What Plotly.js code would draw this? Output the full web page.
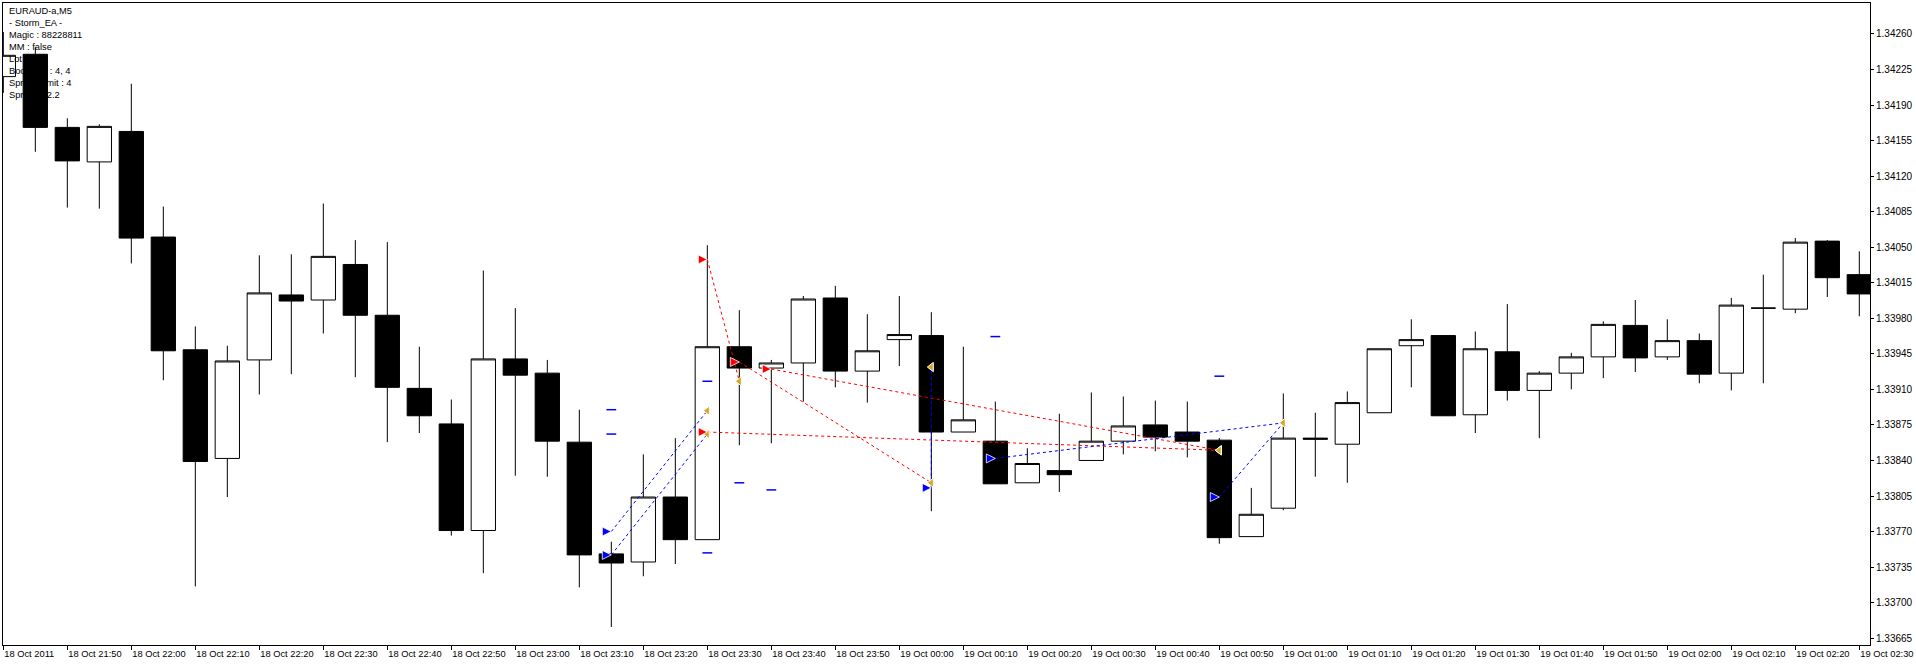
<!DOCTYPE html>
<html>
<head>
<meta charset="utf-8">
<script src="https://cdn.plot.ly/plotly-3.0.1.min.js"></script>
<style>
html,body{margin:0;padding:0;background:#fff;}
#chart{width:1916px;height:664px;}
</style>
</head>
<body>
<div id="chart"></div>
<script>
// ---- bar times (EURAUD M5, 18 Oct 2011 21:40 -> 19 Oct 2011 02:30) ----
const barTimes = ['21:40','21:45','21:50','21:55','22:00','22:05','22:10','22:15','22:20','22:25',
  '22:30','22:35','22:40','22:45','22:50','22:55','23:00','23:05','23:10','23:15',
  '23:20','23:25','23:30','23:35','23:40','23:45','23:50','23:55','00:00','00:05',
  '00:10','00:15','00:20','00:25','00:30','00:35','00:40','00:45','00:50','00:55',
  '01:00','01:05','01:10','01:15','01:20','01:25','01:30','01:35','01:40','01:45',
  '01:50','01:55','02:00','02:05','02:10','02:15','02:20','02:25','02:30'];

const openP = [1.34218,1.34240,1.34168,1.34134,1.34164,1.34060,1.33949,1.33842,1.33939,1.34003,
  1.33998,1.34033,1.33983,1.33911,1.33876,1.33771,1.33940,1.33926,1.33858,1.33748,
  1.33740,1.33804,1.33762,1.33952,1.33931,1.33936,1.34000,1.33928,1.33959,1.33963,
  1.33868,1.33859,1.33818,1.33830,1.33840,1.33859,1.33875,1.33868,1.33860,1.33765,
  1.33793,1.33862,1.33856,1.33887,1.33953,1.33963,1.33885,1.33947,1.33909,1.33926,
  1.33942,1.33973,1.33942,1.33958,1.33926,1.33990,1.33989,1.34056,1.34023];
const highP = [1.34262,1.34247,1.34177,1.34171,1.34211,1.34090,1.33972,1.33953,1.34042,1.34043,
  1.34093,1.34057,1.34055,1.33952,1.33900,1.34027,1.33990,1.33939,1.33890,1.33760,
  1.33846,1.33862,1.34052,1.33988,1.33939,1.34002,1.34012,1.33984,1.34002,1.33986,
  1.33952,1.33898,1.33852,1.33886,1.33907,1.33903,1.33899,1.33898,1.33862,1.33813,
  1.33906,1.33887,1.33908,1.33950,1.33979,1.33963,1.33967,1.33994,1.33928,1.33946,
  1.33977,1.33998,1.33979,1.33965,1.34000,1.34023,1.34059,1.34057,1.34046];
const lowP = [1.34202,1.34144,1.34089,1.34088,1.34034,1.33919,1.33716,1.33804,1.33905,1.33925,
  1.33965,1.33922,1.33858,1.33867,1.33766,1.33729,1.33825,1.33824,1.33715,1.33676,
  1.33726,1.33738,1.33762,1.33855,1.33857,1.33898,1.33912,1.33897,1.33933,1.33790,
  1.33868,1.33817,1.33818,1.33809,1.33840,1.33846,1.33849,1.33843,1.33758,1.33765,
  1.33791,1.33824,1.33818,1.33887,1.33912,1.33884,1.33867,1.33899,1.33862,1.33910,
  1.33921,1.33927,1.33939,1.33916,1.33909,1.33916,1.33985,1.34001,1.33982];
const closeP = [1.34239,1.34168,1.34135,1.34169,1.34059,1.33948,1.33839,1.33938,1.34005,1.33997,
  1.34041,1.33983,1.33912,1.33884,1.33771,1.33940,1.33924,1.33859,1.33747,1.33739,
  1.33804,1.33762,1.33952,1.33931,1.33936,1.33999,1.33928,1.33948,1.33964,1.33868,
  1.33880,1.33817,1.33837,1.33826,1.33859,1.33874,1.33863,1.33859,1.33764,1.33787,
  1.33862,1.33861,1.33897,1.33950,1.33959,1.33884,1.33950,1.33909,1.33926,1.33942,
  1.33974,1.33941,1.33958,1.33925,1.33993,1.33990,1.34055,1.34020,1.34004];

// ---- time axis labels ----
const timeTickValues = ['21:40','21:50','22:00','22:10','22:20','22:30','22:40','22:50','23:00','23:10',
  '23:20','23:30','23:40','23:50','00:00','00:10','00:20','00:30','00:40','00:50',
  '01:00','01:10','01:20','01:30','01:40','01:50','02:00','02:10','02:20','02:30'];
const timeTickLabels = ['18 Oct 2011','18 Oct 21:50','18 Oct 22:00','18 Oct 22:10','18 Oct 22:20','18 Oct 22:30',
  '18 Oct 22:40','18 Oct 22:50','18 Oct 23:00','18 Oct 23:10','18 Oct 23:20','18 Oct 23:30',
  '18 Oct 23:40','18 Oct 23:50','19 Oct 00:00','19 Oct 00:10','19 Oct 00:20','19 Oct 00:30',
  '19 Oct 00:40','19 Oct 00:50','19 Oct 01:00','19 Oct 01:10','19 Oct 01:20','19 Oct 01:30',
  '19 Oct 01:40','19 Oct 01:50','19 Oct 02:00','19 Oct 02:10','19 Oct 02:20','19 Oct 02:30'];

// ---- price axis labels ----
const priceTicks = [1.33665,1.33700,1.33735,1.33770,1.33805,1.33840,1.33875,1.33910,1.33945,
  1.33980,1.34015,1.34050,1.34085,1.34120,1.34155,1.34190,1.34225,1.34260];

// ---- trades (sell = red, buy = blue) ----
const sellOpenTime   = ['23:30','23:35','23:40','23:30'];
const sellOpenPrice  = [1.34038,1.33937,1.33930,1.33868];
const sellCloseTime  = ['23:35','00:05','00:50','00:50'];
const sellClosePrice = [1.33918,1.33818,1.33850,1.33850];

const buyOpenTime   = ['23:15','23:15','00:05','00:15','00:50'];
const buyOpenPrice  = [1.33770,1.33747,1.33813,1.33842,1.33804];
const buyCloseTime  = ['23:30','23:30','00:05','01:00','01:00'];
const buyClosePrice = [1.33889,1.33866,1.33932,1.33877,1.33877];

// ---- stop / target level marks ----
const levelTime  = ['23:15','23:15','23:30','23:30','23:35','23:40','00:15','00:50'];
const levelPrice = [1.33890,1.33866,1.33918,1.33749,1.33818,1.33811,1.33962,1.33923];

// ---- info text ----
const infoLines = ['EURAUD-a,M5','- Storm_EA -','Magic : 88228811','MM : false','Lot : 0.1',
  'Bookings : 4, 4','SpreadLimit : 4','Spread : 2.2'];

function segments(t0, p0, t1, p1) {
  const xs = [], ys = [];
  for (let i = 0; i < t0.length; i++) {
    xs.push(t0[i], t1[i], null);
    ys.push(p0[i], p1[i], null);
  }
  return {xs, ys};
}
const sellSeg = segments(sellOpenTime, sellOpenPrice, sellCloseTime, sellClosePrice);
const buySeg = segments(buyOpenTime, buyOpenPrice, buyCloseTime, buyClosePrice);

const FONT = 'Liberation Sans, Arial, sans-serif';

const traces = [
  {
    type: 'candlestick', x: barTimes, open: openP, high: highP, low: lowP, close: closeP,
    increasing: {fillcolor: '#ffffff', line: {color: '#000000', width: 1}},
    decreasing: {fillcolor: '#000000', line: {color: '#000000', width: 1}},
    whiskerwidth: 0, hoverinfo: 'skip'
  },
  {
    type: 'scatter', mode: 'lines', x: sellSeg.xs, y: sellSeg.ys,
    line: {color: '#ff0000', width: 1, dash: '3px,3px'}, connectgaps: false, hoverinfo: 'skip'
  },
  {
    type: 'scatter', mode: 'lines', x: buySeg.xs, y: buySeg.ys,
    line: {color: '#0000ff', width: 1, dash: '3px,3px'}, connectgaps: false, hoverinfo: 'skip'
  },
  {
    type: 'scatter', mode: 'markers', x: levelTime, y: levelPrice,
    marker: {symbol: 'line-ew', size: 7, line: {color: '#0000ff', width: 1.5}}, hoverinfo: 'skip'
  },
  {
    type: 'scatter', mode: 'markers', x: sellCloseTime.concat(buyCloseTime), y: sellClosePrice.concat(buyClosePrice),
    marker: {symbol: 'triangle-left', size: 8, color: '#DAA520', line: {color: '#ffffff', width: 1}}, hoverinfo: 'skip'
  },
  {
    type: 'scatter', mode: 'markers', x: sellOpenTime, y: sellOpenPrice,
    marker: {symbol: 'arrow-right', size: 9, color: '#ff0000', line: {color: '#ffffff', width: 0.8}}, hoverinfo: 'skip'
  },
  {
    type: 'scatter', mode: 'markers', x: buyOpenTime, y: buyOpenPrice,
    marker: {symbol: 'arrow-right', size: 9, color: '#0000ff', line: {color: '#ffffff', width: 0.8}}, hoverinfo: 'skip'
  }
];

const annotations = infoLines.map((t, i) => ({
  xref: 'paper', yref: 'paper', x: 0, y: 1, xanchor: 'left', yanchor: 'middle',
  xshift: 4, yshift: -(8 + 12 * i), text: t, showarrow: false,
  font: {family: FONT, size: 9.3, color: '#000000'}
}));

const layout = {
  width: 1916, height: 664,
  margin: {l: 3, r: 46, t: 3, b: 19, pad: 0},
  paper_bgcolor: '#ffffff', plot_bgcolor: '#ffffff',
  showlegend: false, hovermode: false,
  boxgap: 0.24, boxgroupgap: 0,
  font: {family: FONT, size: 9, color: '#000000'},
  xaxis: {
    type: 'category', categoryorder: 'array', categoryarray: barTimes,
    range: [-0.01, 58.334], autorange: false,
    tickmode: 'array', tickvals: timeTickValues, ticktext: timeTickLabels,
    ticks: 'outside', ticklen: 4, tickwidth: 1, tickcolor: '#000000',
    showline: true, linecolor: '#000000', linewidth: 1, mirror: true,
    showgrid: false, zeroline: false, rangeslider: {visible: false},
    ticklabelposition: 'outside right', ticklabeloverflow: 'allow',
    tickfont: {family: FONT, size: 9.3, color: '#000000'},
    fixedrange: true
  },
  yaxis: {
    side: 'right', range: [1.3365827, 1.342905], autorange: false,
    tickmode: 'array', tickvals: priceTicks, ticktext: priceTicks.map(v => v.toFixed(5)),
    ticks: 'outside', ticklen: 3, tickwidth: 1, tickcolor: '#000000',
    showline: true, linecolor: '#000000', linewidth: 1, mirror: true,
    showgrid: false, zeroline: false,
    tickfont: {family: FONT, size: 10, color: '#000000'},
    fixedrange: true
  },
  annotations: annotations
};

Plotly.newPlot('chart', traces, layout, {staticPlot: true, displayModeBar: false});
</script>
</body>
</html>
